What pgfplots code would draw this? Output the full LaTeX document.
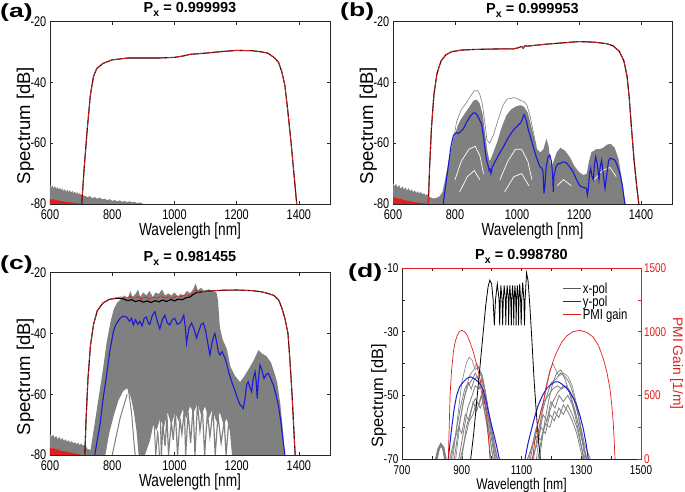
\documentclass[border=0pt]{standalone}
\usepackage{fontspec}
\setmainfont{Liberation Sans}
\newfontfamily\narrowfont{Liberation Sans}[FakeStretch=0.78]
\newfontfamily\widefont{Liberation Sans}[FakeStretch=1.4]
\usepackage{pgfplots}
\pgfplotsset{compat=1.18}
\definecolor{mgray}{RGB}{128,128,128}
\definecolor{mblue}{RGB}{25,25,215}
\definecolor{mred}{RGB}{225,30,30}
\newcommand\tickfont{\narrowfont\fontsize{14}{14}\selectfont}
\newcommand\tickfontd{\narrowfont\fontsize{12.7}{12.7}\selectfont}
\newcommand\ttlfont{\fontsize{14.5}{14.5}\selectfont\bfseries}
\newcommand\sub{\raisebox{-4pt}{\fontsize{10.5}{10.5}\selectfont x}}
\pgfplotsset{
 base/.style={scale only axis, axis line style={line width=0.6pt, black!85},
   tick style={line width=0.5pt, black!85}, major tick length=3pt, tick align=inside,
   /pgf/number format/1000 sep={}, /pgf/number format/assume math mode=true,
   clip=true},
 spec/.style={base, width=280pt, height=182.5pt, xmin=600, xmax=1500, ymin=-80, ymax=-20,
   xtick={600,800,...,1400}, ytick={-80,-60,-40,-20},
   ticklabel style={font=\tickfont},
   xticklabel style={anchor=base, inner sep=0pt, yshift=-15.5pt},
   yticklabel style={anchor=east, inner sep=0pt, xshift=-3.5pt},
   xlabel={Wavelength [nm]}, ylabel={Spectrum [dB]},
   every axis x label/.style={at={(axis description cs:0.5,-0.174)}, anchor=base, inner sep=0pt, font=\narrowfont\fontsize{17.5}{17.5}\selectfont},
   every axis y label/.style={at={(axis description cs:-0.0714,0.43)}, rotate=90, anchor=base, inner sep=0pt, font=\fontsize{18.5}{18.5}\selectfont}},
 ttl/.style={every axis title/.style={at={(axis description cs:0.5,#1)}, anchor=base, inner sep=0pt, font=\ttlfont}},
}
\begin{document}
\begin{tikzpicture}
\useasboundingbox (0,0) rectangle (685pt,492pt);
% ---------------- (a)
\begin{axis}[spec, at={(50pt,288pt)}, anchor=south west, ttl=1.0466, title={P\sub\ = 0.999993}]
\addplot[fill=mgray, draw=none] coordinates {(600,-80) (600,-73.5) (604,-74.6) (608,-73.9) (612,-74.9) (616,-74.1) (620,-75.1) (624,-74.4) (628,-75.3) (632,-74.6) (636,-75.5) (640,-74.9) (644,-75.8) (648,-75.1) (652,-76) (656,-75.3) (660,-76.1) (664,-75.4) (668,-76.3) (672,-75.7) (676,-76.5) (680,-75.9) (684,-76.7) (688,-76.1) (692,-76.9) (696,-76.4) (700,-77.1) (704,-76.7) (708,-77.4) (712,-77.2) (720,-77.8) (728,-77.4) (736,-78.1) (744,-77.7) (752,-78.3) (760,-77.9) (768,-78.5) (776,-78.2) (784,-78.8) (792,-78.4) (800,-79) (808,-78.7) (816,-79.2) (824,-78.8) (832,-79.3) (840,-79) (848,-79.4) (856,-79.1) (864,-79.5) (872,-79.3) (880,-79.7) (890,-79.5) (900,-80)};
\addplot[fill=mred, draw=none] coordinates {(600,-80) (600,-78.3) (606,-78.6) (612,-78.4) (618,-78.8) (624,-78.7) (630,-79) (640,-79.1) (650,-79.3) (660,-79.4) (670,-79.5) (680,-79.7) (690,-79.8) (700,-80)};
\addplot[black, line width=1.1pt] coordinates {(702,-80) (710,-68) (720,-55) (730,-44) (740,-38) (750,-35.5) (770,-33.8) (800,-32.6) (850,-32) (900,-32) (950,-32) (1000,-31.8) (1030,-31.3) (1050,-30.8) (1100,-30.4) (1150,-29.9) (1200,-29.5) (1250,-29.6) (1280,-30) (1300,-30.4) (1320,-31.8) (1335,-33.5) (1345,-36.5) (1355,-41) (1365,-50) (1375,-60) (1385,-71) (1393,-80)};
\addplot[mred, line width=0.8pt, dash pattern=on 8pt off 1.5pt] coordinates {(702,-80) (710,-68) (720,-55) (730,-44) (740,-38) (750,-35.5) (770,-33.8) (800,-32.6) (850,-32) (900,-32) (950,-32) (1000,-31.8) (1030,-31.3) (1050,-30.8) (1100,-30.4) (1150,-29.9) (1200,-29.5) (1250,-29.6) (1280,-30) (1300,-30.4) (1320,-31.8) (1335,-33.5) (1345,-36.5) (1355,-41) (1365,-50) (1375,-60) (1385,-71) (1393,-80)};
\end{axis}
% ---------------- (b)
\begin{axis}[spec, width=279pt, at={(393pt,288pt)}, anchor=south west, ttl=1.042, title={P\sub\ = 0.999953}]
\addplot[fill=mgray, draw=none] coordinates {(600,-80) (600,-73) (605,-74.2) (610,-73.4) (615,-74.6) (620,-73.8) (625,-75) (630,-74.2) (635,-75.2) (640,-74.5) (645,-75.6) (650,-74.8) (655,-75.8) (660,-75.2) (665,-76.1) (670,-75.5) (675,-76.4) (680,-75.8) (685,-76.6) (690,-76) (695,-76.9) (700,-76.4) (705,-77.2) (710,-76.7) (715,-77.5) (720,-77.8) (730,-78.2) (740,-78) (750,-77.5) (760,-76) (770,-71) (780,-66) (790,-61) (800,-57) (810,-54) (820,-52) (830,-50.5) (840,-49) (850,-47.5) (860,-46) (870,-45.7) (880,-47) (890,-51) (897,-57) (905,-63) (912,-66) (920,-64) (935,-60) (950,-55) (965,-51) (980,-49) (995,-48) (1010,-47.5) (1022,-48) (1035,-50) (1045,-54) (1055,-58) (1065,-62) (1075,-63) (1085,-62) (1095,-58.5) (1102,-61) (1110,-68) (1118,-66) (1128,-63) (1140,-61.5) (1155,-62.5) (1170,-64.5) (1185,-67.5) (1200,-69.5) (1215,-70.5) (1225,-70) (1232,-66) (1240,-63) (1248,-62.5) (1256,-62) (1266,-62) (1278,-61.5) (1290,-60.5) (1302,-60.2) (1315,-61.5) (1327,-65) (1337,-71) (1345,-77) (1350,-80)};
\addplot[mgray, line width=0.6pt] coordinates {(775,-76) (790,-62) (805,-53) (820,-49) (835,-47) (850,-44.5) (862,-42.8) (872,-42.7) (880,-44) (888,-47) (896,-53) (903,-59) (912,-60) (925,-57) (940,-52) (955,-47.5) (968,-45.5) (980,-45.3) (990,-45) (1000,-45.3) (1012,-46) (1022,-46.3) (1032,-47.5) (1042,-51) (1052,-56) (1062,-61)};
\addplot[white, line width=0.7pt] coordinates {(800,-72) (820,-66) (845,-62) (865,-61) (880,-64) (892,-70)};
\addplot[white, line width=0.7pt] coordinates {(815,-76) (840,-71) (862,-69) (880,-72)};
\addplot[white, line width=0.7pt] coordinates {(945,-72) (970,-66) (995,-62) (1015,-62) (1035,-66) (1048,-72)};
\addplot[white, line width=0.7pt] coordinates {(960,-76) (990,-71) (1015,-70) (1038,-74)};
\addplot[white, line width=0.7pt] coordinates {(1250,-72) (1275,-69) (1300,-68) (1320,-71)};
\addplot[white, line width=0.7pt] coordinates {(1130,-74) (1150,-72) (1175,-74)};
\addplot[fill=mred, draw=none] coordinates {(600,-80) (600,-77.6) (606,-78) (612,-77.9) (618,-78.3) (624,-78.2) (630,-78.6) (640,-78.8) (650,-79) (660,-79.2) (670,-79.4) (680,-79.5) (690,-79.7) (705,-79.8) (714,-80)};
\addplot[mblue, line width=1.1pt] coordinates {(762,-80) (775,-70) (787,-61) (795,-57.4) (805,-56.5) (812,-56.8) (820,-56) (827,-55.3) (838,-53) (850,-51) (860,-50) (866,-50.1) (872,-50.8) (880,-52.5) (886,-53.8) (892,-58) (898,-63) (902,-65.6) (907,-67.5) (910,-69) (913,-68.5) (916,-70) (920,-68) (929,-66.1) (940,-64) (956,-61.2) (970,-58.5) (988,-55.7) (1000,-54.5) (1010,-53.5) (1016,-52.5) (1022.6,-50.6) (1027,-51.5) (1031,-53) (1036.6,-55.7) (1045,-58.5) (1052.6,-61.2) (1062,-64.5) (1074,-67.8) (1080,-68.2) (1084,-69.5) (1087,-76.5) (1090,-74) (1094,-68) (1100,-64.5) (1106,-63.9) (1111,-66) (1115,-70.5) (1117,-76) (1119,-71) (1125,-68) (1132,-66.8) (1139,-66.7) (1148,-66.2) (1157,-66.3) (1168,-67.5) (1181,-69.4) (1192,-72) (1203,-74.1) (1215,-74.6) (1224,-74.8) (1227,-77) (1230,-75) (1234,-70) (1237.7,-68.3) (1242,-71) (1246,-72) (1250,-67) (1254,-64.5) (1259,-67) (1264.5,-72) (1268,-68) (1273,-65.6) (1278,-70) (1284,-74.9) (1290,-70) (1295,-66) (1300,-65) (1308,-65.2) (1316,-65.6) (1324,-67.5) (1332,-70) (1340,-74) (1348,-80)};
\addplot[black, line width=1.1pt] coordinates {(714,-80) (718,-68) (724,-55) (732,-44) (742,-37) (755,-33) (770,-31) (790,-29.9) (820,-29.4) (860,-29.2) (900,-29.1) (950,-29) (990,-29) (1005,-28.6) (1015,-28.2) (1020,-28.8) (1025,-28) (1035,-28.1) (1060,-27.8) (1100,-27.4) (1150,-27) (1200,-26.6) (1250,-26.8) (1290,-27.3) (1310,-28) (1330,-29.8) (1345,-33) (1355,-38) (1362,-45) (1370,-56) (1378,-66) (1386,-74) (1393,-80)};
\addplot[mred, line width=0.8pt, dash pattern=on 8pt off 1.5pt] coordinates {(714,-80) (718,-68) (724,-55) (732,-44) (742,-37) (755,-33) (770,-31) (790,-29.9) (820,-29.4) (860,-29.2) (900,-29.1) (950,-29) (990,-29) (1005,-28.6) (1015,-28.2) (1020,-28.8) (1025,-28) (1035,-28.1) (1060,-27.8) (1100,-27.4) (1150,-27) (1200,-26.6) (1250,-26.8) (1290,-27.3) (1310,-28) (1330,-29.8) (1345,-33) (1355,-38) (1362,-45) (1370,-56) (1378,-66) (1386,-74) (1393,-80)};
\end{axis}
% ---------------- (c)
\begin{axis}[spec, height=182.3pt, at={(50pt,37pt)}, anchor=south west, ttl=1.0587, title={P\sub\ = 0.981455}]
\addplot[fill=mgray, draw=none] coordinates {(600,-80) (600,-73) (605,-74) (610,-73.3) (615,-74.4) (620,-73.7) (625,-74.8) (630,-74) (635,-75) (640,-74.4) (645,-75.4) (650,-74.8) (655,-75.7) (660,-75.1) (665,-76) (670,-75.4) (675,-76.2) (680,-75.7) (685,-76.5) (690,-75.9) (695,-76.7) (700,-76.2) (705,-76.9) (712,-76.5) (720,-78) (730,-78.3) (745,-78.5) (750,-80)};
\addplot[fill=mgray, draw=none] coordinates {(728,-80) (740,-72) (755,-62) (770,-52) (782,-43) (795,-36) (805,-32) (815,-30) (830,-28.5) (840,-27.5) (850,-28.5) (858,-26) (865,-28) (875,-27) (883,-25.5) (890,-28) (900,-26.5) (910,-27.5) (920,-26) (930,-28) (940,-26.5) (950,-27) (960,-25.5) (970,-27.5) (980,-26.8) (990,-27.5) (1000,-26.5) (1010,-27.8) (1020,-27) (1030,-27.5) (1040,-26) (1050,-26.8) (1060,-25.5) (1068,-23.5) (1075,-25.8) (1085,-25) (1095,-26) (1110,-25.5) (1125,-26.2) (1135,-26.5) (1140,-29) (1146,-38) (1155,-42) (1168,-45) (1180,-51) (1195,-54) (1211,-56) (1225,-54) (1240,-51.5) (1254,-49) (1270,-45.5) (1280,-46.5) (1296,-47.5) (1310,-49.5) (1320,-52.5) (1330,-56) (1340,-63) (1347,-70) (1355,-80) (1185,-80) (1178,-72) (1168,-68) (1158,-70) (1146,-66) (1135,-69) (1122,-65) (1110,-68) (1098,-64) (1086,-67) (1074,-63) (1062,-66) (1050,-64) (1038,-68) (1026,-65) (1014,-69) (1002,-66) (990,-70) (978,-66) (966,-71) (954,-68) (942,-72) (932,-70) (922,-75) (912,-78) (905,-80) (885,-80) (878,-72) (870,-66) (860,-61) (848,-58) (835,-59) (820,-62) (805,-67) (790,-73) (778,-80)};
\addplot[mgray, line width=1.2pt] coordinates {(955,-68) (958,-80) (963,-70) (970,-77) (976,-67) (981,-80) (990,-69) (996,-75) (1003,-66) (1010,-80) (1018,-68) (1024,-73) (1032,-65) (1036,-80) (1044,-66) (1052,-76) (1060,-64) (1066,-80) (1074,-63) (1082,-72) (1090,-65) (1097,-80) (1106,-66) (1114,-74) (1124,-65) (1131,-80) (1140,-67) (1150,-76) (1160,-69) (1166,-80) (1174,-70)};
\addplot[mgray, line width=1pt] coordinates {(935,-70) (940,-80) (946,-72) (952,-80)};
\addplot[mgray, line width=1pt] coordinates {(850,-57) (862,-66) (870,-76) (874,-80)};
\addplot[mgray, line width=1pt] coordinates {(880,-62) (890,-72) (896,-80)};
\addplot[mgray, line width=1pt] coordinates {(800,-80) (825,-68) (848,-60)};
\addplot[fill=mred, draw=none] coordinates {(600,-80) (600,-77.6) (606,-77.9) (612,-77.8) (618,-78.2) (624,-78.1) (630,-78.5) (640,-78.7) (650,-78.9) (660,-79.1) (670,-79.3) (680,-79.5) (690,-79.7) (700,-80)};
\addplot[mblue, line width=1.1pt] coordinates {(744,-80) (752,-75) (760.7,-70.1) (770,-62) (782,-53.7) (792,-46) (803.6,-39.4) (812,-37) (825,-35) (835,-34.3) (846,-34.6) (856,-36) (862,-35) (868,-37.2) (875,-35.5) (882,-37) (889,-36) (896,-37.5) (903,-35) (910,-34.6) (916,-36.5) (921,-37) (929,-34) (937,-32.8) (945,-36) (953,-38.5) (961,-35.5) (969,-34) (977,-36.5) (985,-37.2) (993,-35.5) (1001,-35) (1009,-37) (1017,-36.6) (1024,-35.5) (1030,-34) (1035,-38) (1039,-43.2) (1047,-38) (1055,-36.6) (1063,-38.5) (1071,-41.5) (1079,-39) (1086,-37) (1093,-36.6) (1100,-39) (1107,-43) (1114,-47.1) (1121,-43) (1126,-41) (1130,-40) (1136,-43) (1141,-46) (1146,-47.1) (1153,-46) (1162,-48) (1168,-50) (1175,-53) (1184,-55.9) (1195,-59) (1205,-62) (1211,-63.5) (1216,-64) (1221,-64.7) (1226,-62) (1232,-57) (1237,-55.9) (1242,-57.5) (1248,-59.2) (1253,-55) (1259,-52.6) (1263,-56) (1266,-61.4) (1270,-55) (1275,-50.4) (1281,-52) (1288,-54.8) (1295,-53.5) (1302,-53.1) (1310,-55) (1318,-57) (1326,-60) (1334,-63.5) (1342,-69) (1349,-75) (1355,-80)};
\addplot[black, line width=1.1pt] coordinates {(712,-80) (716,-68) (722,-55) (730,-44) (740,-37) (752,-32.5) (770,-30) (790,-28.8) (815,-28.4) (835,-28.6) (850,-29.2) (862,-28.9) (875,-29.5) (888,-29.1) (900,-29.7) (912,-29.3) (925,-29.8) (938,-29.2) (950,-29.6) (962,-29) (975,-29.5) (988,-28.8) (1000,-29.3) (1012,-28.7) (1025,-28.9) (1038,-28.2) (1050,-28) (1060,-27.2) (1070,-26.6) (1080,-26.4) (1090,-26.3) (1100,-26.1) (1150,-25.8) (1200,-25.7) (1250,-25.9) (1280,-26.3) (1300,-26.8) (1320,-27.5) (1335,-29) (1345,-31.5) (1355,-35) (1365,-40) (1372,-50) (1378,-60) (1383,-70) (1388,-80)};
\addplot[mred, line width=0.8pt, dash pattern=on 8pt off 1.5pt] coordinates {(712,-80) (716,-68) (722,-55) (730,-44) (740,-37) (752,-32.5) (770,-30) (790,-28.8) (815,-28.2) (830,-28) (845,-28.4) (858,-27.8) (870,-28.5) (882,-27.9) (895,-28.6) (908,-28) (920,-28.7) (932,-28.1) (945,-28.4) (958,-27.7) (970,-28.3) (982,-27.9) (995,-28.4) (1008,-27.6) (1020,-28) (1032,-27.3) (1045,-27.6) (1055,-27) (1063,-26.7) (1068,-25.6) (1073,-26.5) (1080,-26.2) (1100,-26.1) (1150,-25.8) (1200,-25.7) (1250,-25.9) (1280,-26.3) (1300,-26.8) (1320,-27.5) (1335,-29) (1345,-31.5) (1355,-35) (1365,-40) (1372,-50) (1378,-60) (1383,-70) (1388,-80)};
\end{axis}
% ---------------- (d) left axis
\begin{axis}[base, width=239pt, height=191pt, at={(402pt,33pt)}, anchor=south west,
  xmin=700, xmax=1500, ymin=-70, ymax=-10,
  xtick={700,800,...,1500}, xticklabels={700,,900,,1100,,1300,,1500},
  ytick={-70,-60,...,-10}, yticklabels={-70,,-50,,-30,,-10}, ytick pos=left,
  ticklabel style={font=\tickfontd},
  xticklabel style={anchor=base, inner sep=0pt, yshift=-16pt},
  yticklabel style={anchor=east, inner sep=0pt, xshift=-3.5pt},
  xlabel={Wavelength [nm]}, ylabel={Spectrum [dB]},
  every axis x label/.style={at={(axis description cs:0.5,-0.158)}, anchor=base, inner sep=0pt, font=\narrowfont\fontsize{15.5}{15.5}\selectfont},
  every axis y label/.style={at={(axis description cs:-0.0795,0.33)}, rotate=90, anchor=base, inner sep=0pt, font=\fontsize{16.4}{16.4}\selectfont},
  ttl=1.0455, title={P\sub\ = 0.998780}]
\addplot[mgray, line width=2.5pt] coordinates {(815,-70) (822,-67) (830,-65.5) (838,-66.5) (845,-70)};
\addplot[mgray, line width=0.6pt] coordinates {(870,-70) (885,-58) (900,-46) (915,-40) (925,-38) (935,-39) (945,-42) (955,-41) (965,-44) (975,-50) (990,-60) (1005,-70)};
\addplot[mgray, line width=0.6pt] coordinates {(880,-70) (895,-58) (910,-50) (925,-44) (940,-42) (950,-40) (960,-42) (970,-44) (985,-52) (1000,-62) (1015,-70)};
\addplot[mgray, line width=0.8pt] coordinates {(875,-70) (890,-60) (905,-52) (920,-47) (935,-45) (945,-43) (955,-45) (965,-43) (975,-47) (990,-55) (1005,-63) (1020,-70)};
\addplot[mgray, line width=0.8pt] coordinates {(890,-70) (905,-62) (920,-54) (935,-50) (945,-47) (958,-48) (968,-45) (980,-50) (995,-58) (1010,-66) (1018,-70)};
\addplot[mgray, line width=0.8pt] coordinates {(900,-70) (915,-60) (930,-55) (945,-51) (958,-53) (970,-49) (985,-55) (1000,-62) (1012,-70)};
\addplot[mgray, line width=0.8pt] coordinates {(860,-70) (875,-64) (890,-60) (900,-62) (912,-56) (925,-58) (938,-52) (950,-55) (965,-50) (978,-56) (992,-62) (1005,-70)};
\addplot[mgray, line width=0.8pt] coordinates {(865,-70) (880,-62) (895,-54) (910,-48) (922,-46) (932,-48) (942,-45) (952,-44) (962,-47) (972,-52) (985,-60) (998,-70)};
\addplot[mgray, line width=0.8pt] coordinates {(895,-70) (910,-64) (925,-58) (938,-56) (950,-52) (962,-54) (975,-51) (988,-57) (1002,-65) (1010,-70)};
\addplot[mgray, line width=0.6pt] coordinates {(1150,-70) (1165,-58) (1180,-48) (1195,-42) (1205,-40) (1215,-42) (1225,-44) (1240,-43) (1255,-44) (1270,-47) (1285,-53) (1300,-62) (1312,-70)};
\addplot[mgray, line width=0.8pt] coordinates {(1140,-70) (1155,-62) (1170,-55) (1185,-50) (1200,-46) (1215,-45) (1230,-43) (1245,-44) (1260,-46) (1275,-50) (1290,-56) (1305,-64) (1318,-70)};
\addplot[mgray, line width=0.8pt] coordinates {(1130,-70) (1145,-62) (1160,-57) (1175,-52) (1190,-50) (1205,-48) (1220,-47) (1235,-48) (1250,-47) (1265,-50) (1280,-55) (1295,-61) (1310,-67) (1320,-70)};
\addplot[mgray, line width=0.8pt] coordinates {(1125,-70) (1140,-64) (1150,-60) (1160,-62) (1172,-56) (1185,-58) (1198,-52) (1212,-54) (1226,-50) (1240,-52) (1255,-50) (1270,-53) (1288,-58) (1303,-64) (1316,-70)};
\addplot[mgray, line width=0.8pt] coordinates {(1135,-70) (1150,-66) (1165,-60) (1180,-62) (1195,-56) (1210,-58) (1225,-54) (1240,-56) (1255,-53) (1270,-56) (1285,-60) (1300,-66) (1310,-70)};
\addplot[mgray, line width=0.8pt] coordinates {(1155,-70) (1170,-62) (1188,-57) (1205,-52) (1222,-49) (1240,-47) (1258,-48) (1275,-51) (1292,-57) (1310,-65) (1330,-70)};
\addplot[mgray, line width=0.8pt] coordinates {(1160,-70) (1175,-60) (1190,-52) (1205,-46) (1218,-43) (1232,-42) (1246,-45) (1260,-49) (1276,-55) (1295,-63) (1308,-70)};
\addplot[mgray, line width=0.8pt] coordinates {(1120,-70) (1135,-66) (1150,-63) (1165,-64) (1180,-59) (1195,-60) (1210,-55) (1225,-57) (1240,-53) (1255,-55) (1270,-58) (1285,-62) (1300,-68) (1305,-70)};
\addplot[mblue, line width=1pt] coordinates {(855,-70) (866,-60.5) (875,-54) (883,-50) (893,-47.3) (905,-45.8) (918,-44.6) (930,-44.2) (943,-44.8) (955.5,-45.8) (964,-46.8) (972,-48.4) (980,-51.2) (989,-55.2) (1000,-59.5) (1011,-63.6) (1018,-66.5) (1025.7,-70)};
\addplot[mblue, line width=1pt] coordinates {(1111.7,-70) (1122,-65) (1134,-60.5) (1145,-56.5) (1156,-53.1) (1170,-50.1) (1184,-47.9) (1198,-46.6) (1212,-45.8) (1224,-45.8) (1234.5,-46.4) (1248,-47.5) (1262,-49) (1274,-51) (1284.7,-53.1) (1296,-56.5) (1306.8,-60.5) (1316,-65) (1323.6,-70)};
\addplot[black, line width=0.8pt] coordinates {(930,-70) (940,-62) (950,-52) (960,-42) (970,-32) (980,-22) (988,-16) (994,-13.8) (1000,-15) (1005,-20) (1009,-28) (1013,-20) (1019,-15) (1025,-20) (1027,-28) (1029,-20) (1031,-15.5) (1035,-20) (1037,-28) (1039,-20) (1042,-15.5) (1046,-20) (1047.5,-28) (1049,-20) (1052,-15.5) (1056,-20) (1057,-28) (1058.5,-20) (1061,-15.5) (1064,-20) (1066,-28) (1067.5,-20) (1070,-15.5) (1073,-20) (1074,-28) (1075.5,-20) (1078,-15.5) (1081,-20) (1082,-28) (1083.5,-20) (1086,-15.5) (1089,-20) (1090,-28) (1091.5,-20) (1094,-15) (1097,-20) (1099,-28) (1101,-20) (1104,-14.5) (1108,-20) (1110,-28) (1112,-20) (1117,-11.5) (1122,-14) (1128,-22) (1135,-33) (1142,-45) (1150,-56) (1158,-65) (1163,-70)};
\end{axis}
% ---------------- (d) right axis
\begin{axis}[base, width=239pt, height=191pt, at={(402pt,33pt)}, anchor=south west,
  xmin=700, xmax=1500, ymin=0, ymax=1500,
  axis y line*=right, axis x line*=top, xtick=\empty,
  axis line style={line width=0.6pt, mred}, ytick style={mred},
  ytick={0,250,...,1500}, yticklabels={0,,500,,1000,,1500},
  yticklabel style={font=\tickfontd, text=mred, anchor=west, inner sep=0pt, xshift=3pt},
  ylabel={PMI Gain [1/m]},
  every axis y label/.style={at={(axis description cs:1.134,0.5)}, rotate=-90, anchor=base, inner sep=0pt, text=mred, font=\fontsize{13.8}{13.8}\selectfont},
  legend cell align=left,
  legend image code/.code={\draw[#1] (0pt,0pt) -- (18pt,0pt);},
  legend style={draw=none, fill=none, at={(axis description cs:0.668,0.932)}, anchor=north west, font=\narrowfont\fontsize{14.5}{14.5}\selectfont, inner sep=0pt, row sep=-2pt, nodes={inner sep=1.5pt}}]
\addlegendimage{black!65, line width=1.5pt}
\addlegendentry{x-pol}
\addlegendimage{mblue, line width=1pt}
\addlegendentry{y-pol}
\addplot[mred, line width=0.7pt] coordinates {(855,0) (858,250) (861,500) (866,700) (872,840) (878,920) (885,971) (892,1000) (900,1010) (909,1000) (918.6,971) (928,915) (938.7,840) (950,740) (961,630) (970,520) (978,421) (984,320) (989,186) (992,90) (994.5,0)};
\addlegendentry{PMI gain}
\addplot[mred, line width=0.7pt, forget plot] coordinates {(1137,0) (1145,150) (1155,280) (1165,380) (1173,448) (1185,580) (1195,683) (1206,770) (1218,840) (1234,915) (1251,966) (1272,1000) (1296,1010) (1318,995) (1340,958) (1358,890) (1374,788) (1386,680) (1396,552) (1402,430) (1407,290) (1410,160) (1413,0)};
\end{axis}
% panel letters
\node[anchor=base west, inner sep=0pt, font=\widefont\bfseries\fontsize{19}{19}\selectfont] at (0pt,474pt) {(a)};
\node[anchor=base west, inner sep=0pt, font=\widefont\bfseries\fontsize{19}{19}\selectfont] at (340pt,475pt) {(b)};
\node[anchor=base west, inner sep=0pt, font=\widefont\bfseries\fontsize{19}{19}\selectfont] at (0pt,222.7pt) {(c)};
\node[anchor=base west, inner sep=0pt, font=\widefont\bfseries\fontsize{19}{19}\selectfont] at (348pt,214pt) {(d)};
\end{tikzpicture}
\end{document}
